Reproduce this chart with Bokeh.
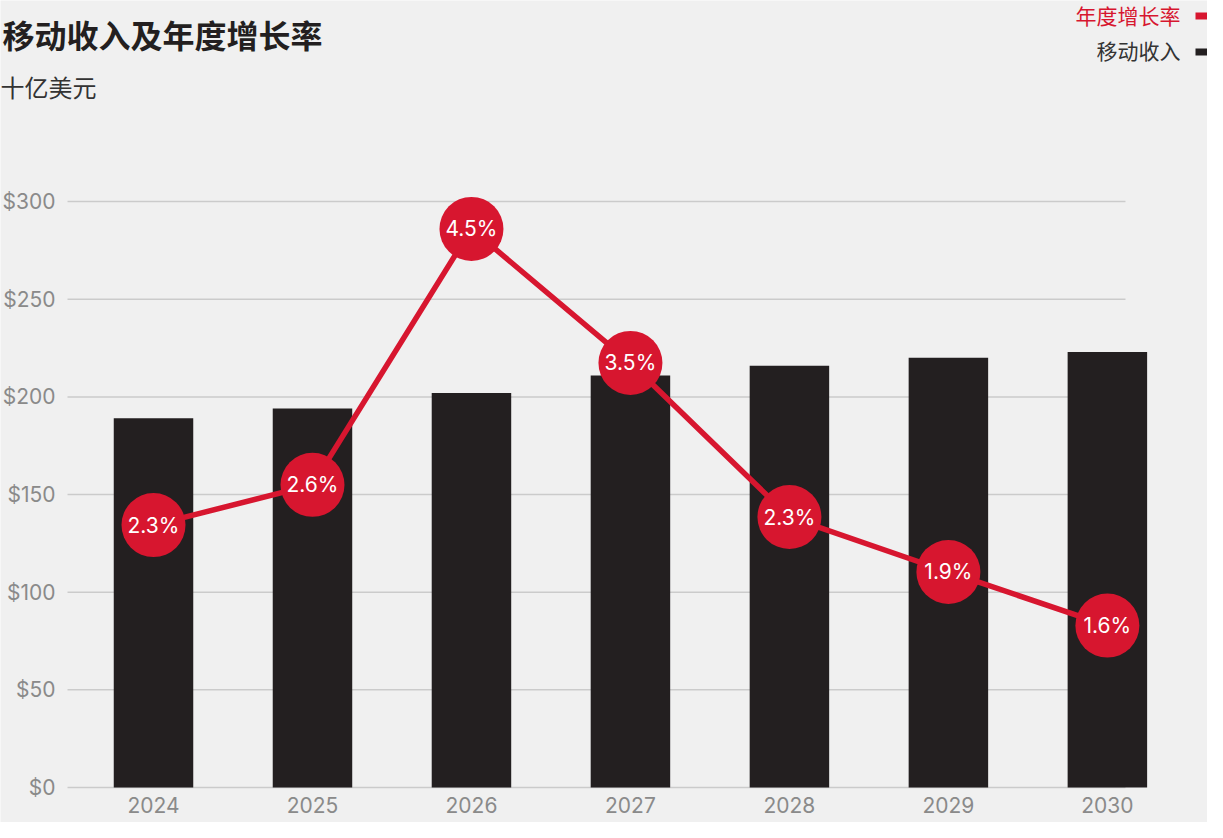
from bokeh.plotting import figure
from bokeh.models import Range1d, FixedTicker, ColumnDataSource
from bokeh.core.properties import value
from bokeh.embed import file_html
from bokeh.resources import INLINE

# ---- data ----
years = ["2024", "2025", "2026", "2027", "2028", "2029", "2030"]
revenue = [189, 194, 202, 211, 216, 220, 223]          # 十亿美元
growth = [2.28, 2.58, 4.49, 3.49, 2.34, 1.93, 1.53]     # % (position)
growth_labels = ["2.3%", "2.6%", "4.5%", "3.5%", "2.3%", "1.9%", "1.6%"]
y_ticks = [0, 50, 100, 150, 200, 250, 300]
y_tick_labels = ["$0", "$50", "$100", "$150", "$200", "$250", "$300"]

title_text = "移动收入及年度增长率"
subtitle_text = "十亿美元"
legend_names = ["年度增长率", "移动收入"]

# ---- style ----
BG = "#f0f0f0"
RED = "#d7162f"
DARK = "#231f20"
GRID = "#cbcbcb"
AXIS_TXT = "#8a8a8a"
NUM_FONT = "Inter"
CJK_FONT = "Noto Sans CJK SC"
legend_colors = [RED, DARK]
legend_text_colors = [RED, "#333333"]

# ---- layout (canvas pixels) ----
W, H = 1207, 822
Y0_PX = 787                     # canvas row of the $0 baseline
PX_PER_CAT = 158.98             # horizontal pixels per category
FIRST_CAT_PX = 153              # centre of first category
PX_PER_USD = 625 / 320          # vertical pixels per $1bn
AXIS_PX = 67                    # where the value axis sits
G_PX = 134.0                    # vertical pixels per growth percentage point
G_AT_BASE = 0.3216              # growth value at the $0 baseline row

def px2x(px):
    return (px - FIRST_CAT_PX) / PX_PER_CAT

def px2y(py):                   # py measured from canvas top
    return (Y0_PX - py) / PX_PER_USD

X_START, X_END = px2x(0), px2x(W)
Y_START, Y_END = px2y(H), px2y(0)
G_START = G_AT_BASE - (H - Y0_PX) / G_PX
G_END = G_AT_BASE + Y0_PX / G_PX

xs = list(range(len(years)))
src = ColumnDataSource(dict(x=xs, rev=revenue, g=growth, lab=growth_labels))

p = figure(width=W, height=H, output_backend="svg", toolbar_location=None,
           x_range=Range1d(X_START, X_END), y_range=Range1d(Y_START, Y_END),
           min_border_left=0, min_border_right=0,
           min_border_top=0, min_border_bottom=0)
p.extra_y_ranges = {"g": Range1d(G_START, G_END)}

p.background_fill_color = BG
p.border_fill_color = BG
p.outline_line_color = None
p.xgrid.visible = False
p.ygrid.visible = False

# gridlines
GX0, GX1 = px2x(AXIS_PX), px2x(1125)
p.segment(x0=[GX0] * len(y_ticks), x1=[GX1] * len(y_ticks), y0=y_ticks, y1=y_ticks,
          line_color=GRID, line_width=1.5)

# axes (fixed inside the full-canvas frame)
p.yaxis.fixed_location = GX0
p.xaxis.fixed_location = 0
p.yaxis.ticker = FixedTicker(ticks=y_ticks)
p.yaxis.major_label_overrides = {t: l for t, l in zip(y_ticks, y_tick_labels)}
p.xaxis.ticker = FixedTicker(ticks=xs)
p.xaxis.major_label_overrides = {i: y for i, y in zip(xs, years)}
for ax in (p.xaxis[0], p.yaxis[0]):
    ax.axis_line_color = None
    ax.major_tick_line_color = None
    ax.minor_tick_line_color = None
    ax.major_tick_out = 0
    ax.major_tick_in = 0
    ax.major_label_text_color = AXIS_TXT
    ax.major_label_text_font = NUM_FONT
    ax.major_label_text_font_size = "21px"
p.yaxis.major_label_standoff = 12
p.xaxis.major_label_standoff = 9

# bars
p.vbar(x="x", top="rev", width=0.5, bottom=0, source=src, fill_color=DARK, line_color=None)

# growth line + bubbles
p.line(x="x", y="g", source=src, y_range_name="g", line_color=RED, line_width=5.5)
p.scatter(x="x", y="g", source=src, y_range_name="g", size=64,
          fill_color=RED, line_color=None)
p.text(x="x", y="g", text="lab", source=src, y_range_name="g",
       text_align="center", text_baseline="middle", text_color="white",
       text_font=value(NUM_FONT), text_font_size="21px")

# title, subtitle
p.text(x=[px2x(2)], y=[px2y(33)], text=[title_text], text_font=value(CJK_FONT),
       text_font_size="32px", text_font_style="bold", text_color=DARK,
       text_align="left", text_baseline="middle")
p.text(x=[px2x(0)], y=[px2y(86)], text=[subtitle_text], text_font=value(CJK_FONT),
       text_font_size="24px", text_color="#333333",
       text_align="left", text_baseline="middle")

# legend (text, then marker at the right edge)
leg_text_y = [14, 49]
leg_mark_top = [12, 48]
p.text(x=[px2x(1180)] * 2, y=[px2y(v) for v in leg_text_y], text=legend_names,
       text_font=value(CJK_FONT), text_font_size="21px", text_color=legend_text_colors,
       text_align="right", text_baseline="middle")
p.quad(left=[px2x(1195)] * 2, right=[px2x(W)] * 2,
       top=[px2y(t) for t in leg_mark_top], bottom=[px2y(t + 7) for t in leg_mark_top],
       fill_color=legend_colors, line_color=None)

open("out.html", "w").write(file_html(p, INLINE))
